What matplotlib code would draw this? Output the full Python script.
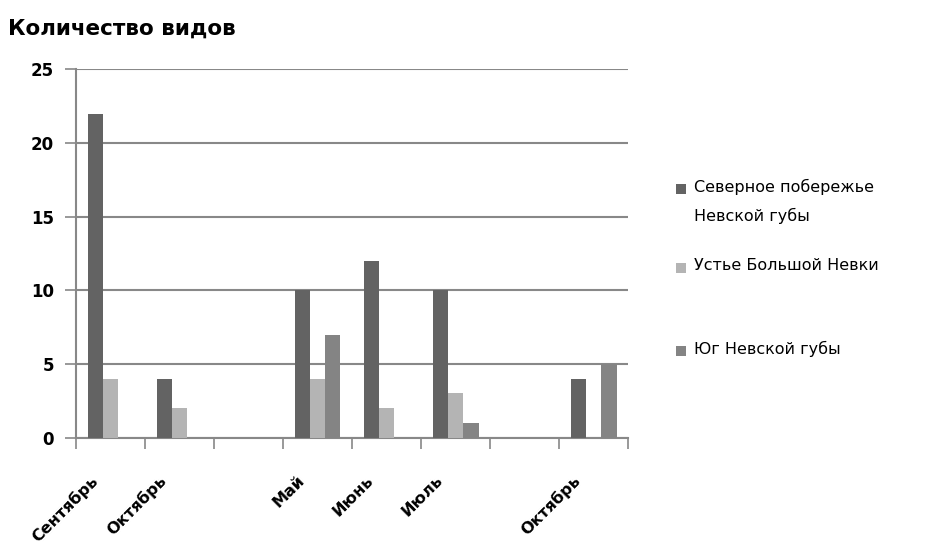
import numpy as np
import matplotlib
matplotlib.use("Agg")
import matplotlib.pyplot as plt
import matplotlib.patches as patches

# Categories (two empty slots are gaps in the original chart)
months = ["Сентябрь", "Октябрь", "", "Май", "Июнь", "Июль", "", "Октябрь"]

# Number of species per site
north_shore = [22, 4, 0, 10, 12, 10, 0, 4]
bolshaya_nevka = [4, 2, 0, 4, 2, 3, 0, 0]
south_bay = [0, 0, 0, 7, 0, 1, 0, 5]

series_names = ["Северное побережье\nНевской губы", "Устье Большой Невки", "Юг Невской губы"]
series_colors = ["#636363", "#b4b4b4", "#848484"]

plt.rcParams["font.family"] = ["DejaVu Sans"]

fig = plt.figure(figsize=(9.36, 5.5), dpi=100)
ax = fig.add_axes([76 / 936, 1 - 437.7 / 550, 552 / 936, (437.7 - 69.3) / 550])

x = np.arange(len(months))
w = 1 / 4.5
for k, (vals, col) in enumerate(zip([north_shore, bolshaya_nevka, south_bay], series_colors)):
    ax.bar(x + (k - 1) * w, vals, width=w, color=col, zorder=3)

ax.set_xlim(-0.5, len(months) - 0.5)
ax.set_ylim(0, 25)
ax.set_yticks(np.arange(0, 26, 5))
ax.set_yticklabels([str(v) for v in range(0, 26, 5)], fontsize=12, fontweight="bold")
ax.yaxis.grid(True, color="#888888", linewidth=1.5, zorder=0)

# category boundaries as ticks, labels at centers
ax.set_xticks(np.arange(-0.5, len(months)))
ax.set_xticklabels([])
ax.tick_params(axis="x", length=8, width=1.2, color="#888888")
ax.tick_params(axis="y", length=8, width=1.2, color="#888888", pad=8)
for i, m in enumerate(months):
    if m:
        ax.annotate(m, xy=(i, 0), xycoords=("data", "axes fraction"),
                    xytext=(-15, -25), textcoords="offset points",
                    rotation=45, ha="right", va="top", rotation_mode="anchor",
                    fontsize=11.5, fontweight="bold")

for side in ["top", "right"]:
    ax.spines[side].set_visible(False)
for side in ["left", "bottom"]:
    ax.spines[side].set_color("#888888")
    ax.spines[side].set_linewidth(1.5)

fig.text(8 / 936, 1 - 29 / 550, "Количество видов", fontsize=15.5, fontweight="bold",
         va="center", ha="left")

# legend drawn by hand to match the spacing
legend_y = [189, 268, 351]
for name, col, ly in zip(series_names, series_colors, legend_y):
    sq = patches.Rectangle((676 / 936, 1 - (ly + 5) / 550), 10 / 936, 10 / 550,
                           transform=fig.transFigure, facecolor=col, edgecolor="none")
    fig.add_artist(sq)
    fig.text(694 / 936, 1 - (ly - 10) / 550, name, fontsize=11.5, va="top", ha="left",
             linespacing=2.0)

fig.savefig("out.png", dpi=100)
